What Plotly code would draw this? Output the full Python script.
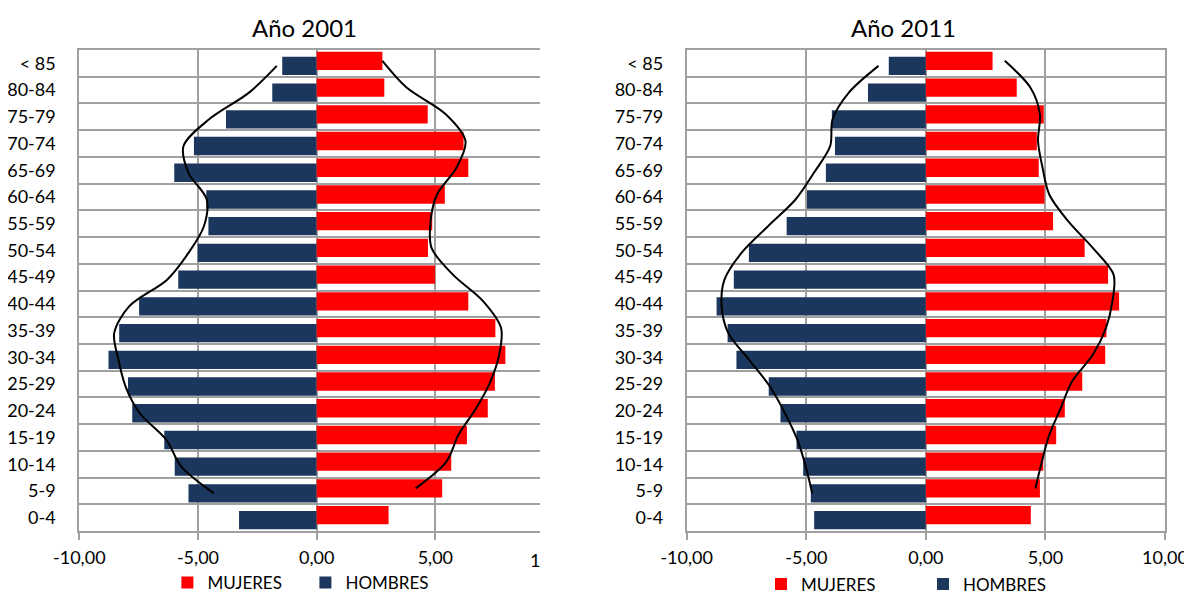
import plotly.graph_objects as go

# ---------------- data ----------------
categories = ["0-4", "5-9", "10-14", "15-19", "20-24", "25-29", "30-34", "35-39",
              "40-44", "45-49", "50-54", "55-59", "60-64", "65-69", "70-74",
              "75-79", "80-84", "< 85"]

hombres_2001 = [-3.27, -5.40, -5.98, -6.42, -7.77, -7.95, -8.77, -8.32, -7.48,
                -5.83, -5.01, -4.56, -4.65, -6.00, -5.17, -3.82, -1.87, -1.45]
mujeres_2001 = [3.03, 5.29, 5.67, 6.33, 7.21, 7.51, 7.95, 7.53, 6.39,
                4.99, 4.69, 4.87, 5.40, 6.39, 6.19, 4.68, 2.85, 2.77]

hombres_2011 = [-4.67, -4.81, -5.13, -5.41, -6.08, -6.57, -7.92, -8.29, -8.75,
                -8.03, -7.40, -5.82, -4.97, -4.18, -3.80, -3.93, -2.42, -1.55]
mujeres_2011 = [4.39, 4.77, 4.91, 5.45, 5.81, 6.54, 7.50, 7.55, 8.08,
                7.62, 6.64, 5.32, 4.96, 4.72, 4.64, 4.93, 3.80, 2.79]

# outline curves (from 5-9 up to < 85)
curve_categories = categories[1:]
curva_h_2001 = [-4.33, -5.70, -6.33, -7.45, -8.05, -8.35, -8.53, -7.90, -6.30,
                -5.40, -4.75, -4.63, -5.40, -5.61, -4.53, -2.85, -1.68]
curva_m_2001 = [4.17, 5.47, 5.97, 6.72, 7.32, 7.69, 7.77, 7.02, 5.74,
                4.84, 4.80, 5.07, 5.89, 6.27, 5.44, 3.79, 2.77]
curva_h_2011 = [-4.75, -5.02, -5.37, -5.89, -6.52, -7.39, -8.26, -8.54, -8.42,
                -7.71, -6.60, -5.45, -4.68, -4.00, -3.90, -3.22, -1.98]
curva_m_2011 = [4.58, 4.85, 5.16, 5.64, 6.11, 6.98, 7.53, 7.80, 7.85,
                6.98, 5.95, 5.16, 4.88, 4.69, 4.77, 4.37, 3.30]

x_ticks = [-10, -5, 0, 5, 10]
titles = ["Año 2001", "Año 2011"]
series_names = ["MUJERES", "HOMBRES"]

# ---------------- style ----------------
BLUE = "#1C375E"
RED = "#FF0000"
GRID = "#A0A0A0"
FONT = "Lato"
W, H = 1192, 595
PAGE_OFF = 8  # default body margin of the html page


def px_x(p):
    return (p - PAGE_OFF) / W


def px_y(p):
    return 1 - (p - PAGE_OFF) / H


def fmt(v):
    return f"{v:.2f}".replace(".", ",")


ypos = list(range(len(categories)))
cat_index = {c: i for i, c in enumerate(categories)}
curve_pos = [cat_index[c] for c in curve_categories]
BAR_W = 0.686
SHIFT = 0.094

fig = go.Figure()

panels = [
    dict(xa="x", ya="y", h=hombres_2001, m=mujeres_2001, ch=curva_h_2001,
         cm=curva_m_2001, leg="legend"),
    dict(xa="x2", ya="y2", h=hombres_2011, m=mujeres_2011, ch=curva_h_2011,
         cm=curva_m_2011, leg="legend2"),
]

for p in panels:
    fig.add_trace(go.Bar(
        y=ypos, x=p["h"], orientation="h", name=series_names[1],
        marker=dict(color=BLUE, line=dict(width=0)),
        width=BAR_W, offset=-SHIFT - BAR_W / 2,
        xaxis=p["xa"], yaxis=p["ya"], legend=p["leg"], legendrank=2,
        hoverinfo="skip"))
    fig.add_trace(go.Bar(
        y=ypos, x=p["m"], orientation="h", name=series_names[0],
        marker=dict(color=RED, line=dict(width=0)),
        width=BAR_W, offset=SHIFT - BAR_W / 2,
        xaxis=p["xa"], yaxis=p["ya"], legend=p["leg"], legendrank=1,
        hoverinfo="skip"))
    fig.add_trace(go.Scatter(
        x=p["ch"], y=[v - SHIFT for v in curve_pos], mode="lines",
        line=dict(color="black", width=2, shape="spline", smoothing=0.9),
        xaxis=p["xa"], yaxis=p["ya"], showlegend=False, hoverinfo="skip"))
    fig.add_trace(go.Scatter(
        x=p["cm"], y=[v + SHIFT for v in curve_pos], mode="lines",
        line=dict(color="black", width=2, shape="spline", smoothing=0.9),
        xaxis=p["xa"], yaxis=p["ya"], showlegend=False, hoverinfo="skip"))


def xaxis_cfg(domain, anchor, rng, ticks):
    return dict(
        domain=domain, anchor=anchor, range=rng, tickmode="array",
        tickvals=ticks, ticktext=[fmt(t) for t in ticks], showgrid=True,
        gridcolor=GRID, gridwidth=2, zeroline=False, showline=True,
        linecolor=GRID, linewidth=2, mirror=True, ticks="outside", ticklen=7,
        tickwidth=2, tickcolor=GRID, ticklabelstandoff=2, automargin=False,
        tickfont=dict(family=FONT, size=18, color="black"), fixedrange=True)


def yaxis_cfg(domain, anchor, mirror):
    return dict(
        domain=domain, anchor=anchor, range=[-0.5, len(categories) - 0.5],
        tickmode="array", tickvals=ypos, ticktext=categories,
        showgrid=False, zeroline=False,
        minor=dict(tickmode="array",
                   tickvals=[i - 0.5 for i in range(len(categories) + 1)],
                   showgrid=True, gridcolor=GRID, gridwidth=2, ticks=""),
        showline=True, linecolor=GRID, linewidth=2, mirror=mirror,
        ticks="", ticklabelstandoff=18, automargin=False,
        tickfont=dict(family=FONT, size=18, color="black"), fixedrange=True)


ydom = [px_y(531), px_y(50)]

fig.update_layout(
    width=W, height=H,
    margin=dict(l=0, r=0, t=0, b=0, autoexpand=False),
    paper_bgcolor="white", plot_bgcolor="white",
    barmode="overlay",
    font=dict(family=FONT, size=18, color="black"),
    xaxis=xaxis_cfg([px_x(79.3), px_x(540)], "y", [-10, 9.41], x_ticks[:-1]),
    yaxis=yaxis_cfg(ydom, "x", False),
    xaxis2=xaxis_cfg([px_x(686.7), px_x(1165)], "y2", [-10, 10], x_ticks),
    yaxis2=yaxis_cfg(ydom, "x2", True),
    legend=dict(orientation="h", x=px_x(167.4), y=px_y(583), xanchor="left",
                yanchor="middle", font=dict(family=FONT, size=17, color="black"),
                entrywidth=93, entrywidthmode="pixels",
                bgcolor="rgba(0,0,0,0)", traceorder="normal"),
    legend2=dict(orientation="h", x=px_x(761), y=px_y(584.5), xanchor="left",
                 yanchor="middle", font=dict(family=FONT, size=17, color="black"),
                 entrywidth=117, entrywidthmode="pixels",
                 bgcolor="rgba(0,0,0,0)", traceorder="normal"),
    showlegend=True,
)

# titles
fig.add_annotation(text=titles[0], x=px_x(304), y=px_y(27), xref="paper",
                   yref="paper", showarrow=False, xanchor="center",
                   yanchor="middle", font=dict(family=FONT, size=24, color="black"))
fig.add_annotation(text=titles[1], x=px_x(903), y=px_y(27), xref="paper",
                   yref="paper", showarrow=False, xanchor="center",
                   yanchor="middle", font=dict(family=FONT, size=24, color="black"))
# cropped "10,00" label of the left panel (only its first digit is visible)
fig.add_annotation(text=fmt(x_ticks[-1])[0], x=9.22, xref="x", y=px_y(560),
                   yref="paper", showarrow=False, xanchor="center",
                   yanchor="middle", font=dict(family=FONT, size=18, color="black"))

fig.write_html("out.html")
